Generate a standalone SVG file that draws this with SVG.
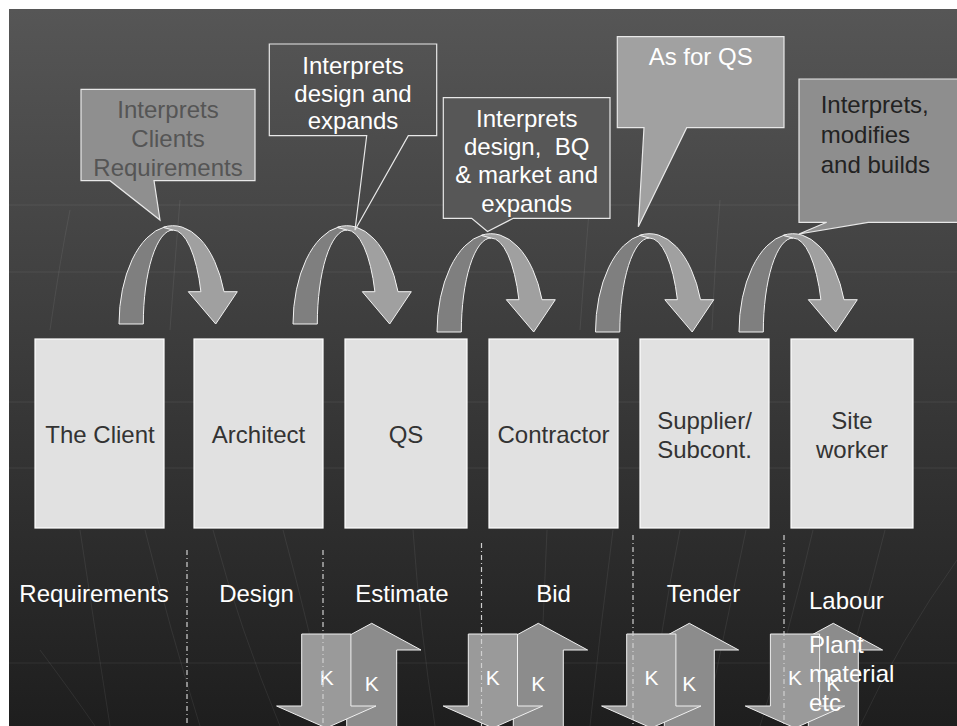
<svg xmlns="http://www.w3.org/2000/svg" xmlns:xlink="http://www.w3.org/1999/xlink" width="957" height="726" viewBox="0 0 957 726">
<defs>
<linearGradient id="bg" x1="0" y1="0" x2="0" y2="1">
<stop offset="0" stop-color="#565656"/>
<stop offset="0.5" stop-color="#3a3a3a"/>
<stop offset="1" stop-color="#1e1e1e"/>
</linearGradient>
<g id="uturn">
<path class="ud" d="M119,324 A54,98.3 0 0 1 165,226.8 L173,230 A29.7,94 0 0 0 143.3,324 Z"/>
<path class="ul" d="M163,227.4 L173,230 A29.7,94 0 0 1 200.9,291.7 L188.3,291.7 L215.7,324 L237.3,291.7 L224,291.7 A54,98.3 0 0 0 163,227.4 Z"/>
</g>
<path id="karrow-down" class="kd" d="M-24.6,634 H24.6 V706 H49.7 L0,728 L-49.7,706 H-24.6 Z"/>
<path id="karrow-up" class="ku" d="M0,623.3 L49.3,650 H25 V740 H-25 V650 H-49.3 Z"/>
</defs>
<style>
text { font-family: "Liberation Sans", Arial, sans-serif; font-size: 24px; }
.node rect { fill: #e1e1e1; stroke: #ffffff; stroke-width: 1.2; }
.node text { fill: #333333; text-anchor: middle; }
.ud { fill: #7f7f7f; stroke: #f2f2f2; stroke-width: 1; }
.ul { fill: #a0a0a0; stroke: #f2f2f2; stroke-width: 1; }
.kd { fill: #9a9a9a; stroke: #f0f0f0; stroke-width: 1; }
.ku { fill: #8c8c8c; stroke: #f0f0f0; stroke-width: 1; }
.k { fill: #ffffff; font-size: 21px; text-anchor: middle; }
.lbl { fill: #ffffff; text-anchor: middle; }
.grid { stroke: #ffffff; stroke-opacity: 0.07; stroke-width: 1; fill: none; }
.dash { stroke: #d0d0d0; stroke-width: 1.2; stroke-dasharray: 5 3 1 3; fill: none; }
.co { stroke: #e8e8e8; stroke-width: 1.2; }
</style>
<rect x="0" y="0" width="957" height="726" fill="#ffffff"/>
<rect x="9" y="9" width="948" height="717" fill="url(#bg)"/>
<g id="background-grid">
<path class="grid" d="M9,205 H957 M9,272 H957 M9,402 H957 M9,468 H957 M9,663 H957"/>
<path class="grid" d="M70,210 Q60,260 50,330 M180,200 Q175,260 170,330 M590,200 Q585,260 580,330 M720,200 Q715,260 712,330"/>
<path class="grid" d="M80,530 Q95,630 110,726 M145,530 Q170,630 200,726 M213,530 Q240,630 280,726 M283,530 Q310,630 330,726 M40,650 Q70,690 95,726 M413,530 Q420,630 435,726 M547,530 Q542,630 540,726 M613,530 Q600,630 590,726 M680,530 Q660,630 650,726 M746,530 Q725,630 705,726 M813,530 Q790,630 760,726 M885,530 Q860,630 830,726 M957,560 Q900,640 860,726"/>
</g>
<g id="connectors">
<use xlink:href="#uturn"/>
<use xlink:href="#uturn" transform="translate(174,0)"/>
<use xlink:href="#uturn" transform="translate(318,8)"/>
<use xlink:href="#uturn" transform="translate(476.5,8)"/>
<use xlink:href="#uturn" transform="translate(620,8)"/>
</g>
<g id="callout-client">
<path class="co" fill="#8f8f8f" d="M81,89.3 H255 V180.7 H154 L160,220 L110,180.7 H81 Z"/>
<text x="168" y="118" fill="#555555" text-anchor="middle">Interprets</text>
<text x="168" y="147" fill="#555555" text-anchor="middle">Clients</text>
<text x="168" y="176" fill="#555555" text-anchor="middle">Requirements</text>
</g>
<g id="callout-architect">
<path class="co" fill="none" d="M269.3,44 H436.7 V135.7 H408.3 L355,230 L366.7,135.7 H269.3 Z"/>
<text x="353" y="74" fill="#ffffff" text-anchor="middle">Interprets</text>
<text x="353" y="101.5" fill="#ffffff" text-anchor="middle">design and</text>
<text x="353" y="129" fill="#ffffff" text-anchor="middle">expands</text>
</g>
<g id="callout-qs">
<path class="co" fill="#575757" d="M443.3,97.7 H610 V218.3 H513.3 L487.5,231.5 L471.7,218.3 H443.3 Z"/>
<text x="526.7" y="126.5" fill="#ffffff" text-anchor="middle">Interprets</text>
<text x="526.7" y="155" fill="#ffffff" text-anchor="middle" style="white-space:pre">design,  BQ</text>
<text x="526.7" y="183.3" fill="#ffffff" text-anchor="middle">&amp; market and</text>
<text x="526.7" y="211.5" fill="#ffffff" text-anchor="middle">expands</text>
</g>
<g id="callout-contractor">
<path class="co" fill="#a1a1a1" d="M617.3,36.7 H784 V127.7 H686.7 L638.3,226.7 L644,127.7 H617.3 Z"/>
<text x="700.7" y="65" fill="#ffffff" text-anchor="middle">As for QS</text>
</g>
<g id="callout-site">
<path class="co" fill="#8e8e8e" stroke-width="2" d="M799,79 H962 V222.3 H868.3 L799,234 L826.7,222.3 H799 Z"/>
<text x="820.7" y="113.3" fill="#222222" font-size="26">Interprets,</text>
<text x="820.7" y="143.3" fill="#222222" font-size="26">modifies</text>
<text x="820.7" y="173.3" fill="#222222" font-size="26">and builds</text>
</g>
<g id="node-client" class="node">
<rect x="35" y="339" width="129" height="189"/>
<text x="100" y="443">The Client</text>
</g>
<g id="node-architect" class="node">
<rect x="194" y="339" width="129" height="189"/>
<text x="258.5" y="443">Architect</text>
</g>
<g id="node-qs" class="node">
<rect x="345" y="339" width="122" height="189"/>
<text x="406" y="443">QS</text>
</g>
<g id="node-contractor" class="node">
<rect x="489" y="339" width="129" height="189"/>
<text x="553.5" y="443">Contractor</text>
</g>
<g id="node-supplier" class="node">
<rect x="640" y="339" width="129" height="189"/>
<text x="704.5" y="429">Supplier/</text>
<text x="704.5" y="458">Subcont.</text>
</g>
<g id="node-site" class="node">
<rect x="791" y="339" width="122" height="189"/>
<text x="852" y="429">Site</text>
<text x="852" y="458">worker</text>
</g>
<g id="stage-labels">
<text class="lbl" x="94" y="602">Requirements</text>
<text class="lbl" x="256.5" y="602">Design</text>
<text class="lbl" x="402" y="602">Estimate</text>
<text class="lbl" x="553.5" y="602">Bid</text>
<text class="lbl" x="703.5" y="602">Tender</text>
</g>
<g id="k-arrows">
<use xlink:href="#karrow-up" transform="translate(371.7,0)"/>
<use xlink:href="#karrow-down" transform="translate(326.3,0)"/>
<use xlink:href="#karrow-up" transform="translate(538.3,0)"/>
<use xlink:href="#karrow-down" transform="translate(492.9,0)"/>
<use xlink:href="#karrow-up" transform="translate(689.3,0)"/>
<use xlink:href="#karrow-down" transform="translate(651.3,0)"/>
<use xlink:href="#karrow-up" transform="translate(833.3,0)"/>
<use xlink:href="#karrow-down" transform="translate(795,0)"/>
<text class="k" x="326.7" y="685">K</text>
<text class="k" x="371.7" y="691">K</text>
<text class="k" x="492.7" y="685">K</text>
<text class="k" x="538.3" y="691">K</text>
<text class="k" x="651.5" y="685">K</text>
<text class="k" x="689.3" y="691">K</text>
<text class="k" x="795" y="685">K</text>
<text class="k" x="833.3" y="691">K</text>
</g>
<g id="dividers">
<path class="dash" d="M187,550 V726 M323,550 V726 M481.5,543 V726 M633,535 V726 M784,535 V726"/>
</g>
<g id="site-labels">
<text x="809" y="609" fill="#ffffff">Labour</text>
<text x="809" y="653" fill="#ffffff">Plant</text>
<text x="809" y="682" fill="#ffffff">material</text>
<text x="809" y="711" fill="#ffffff">etc</text>
</g>
</svg>
